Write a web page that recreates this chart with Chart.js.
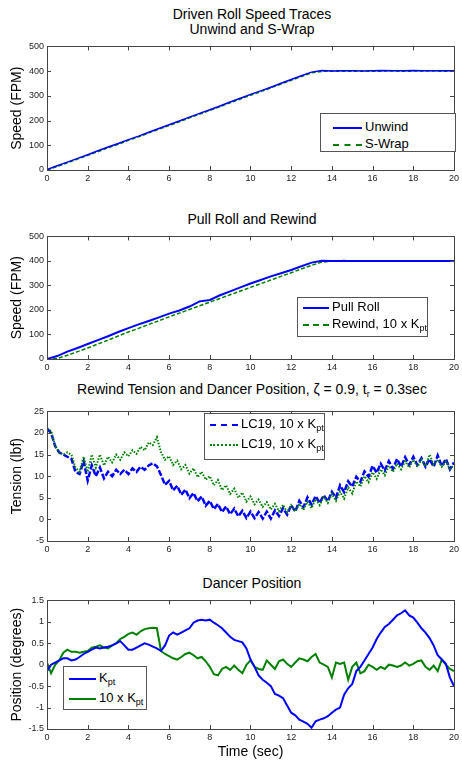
<!DOCTYPE html>
<html>
<head>
<meta charset="utf-8">
<script src="https://cdn.jsdelivr.net/npm/chart.js"></script>
<style>
  body { margin: 0; background: #fff; width: 462px; height: 761px; position: relative; overflow: hidden;
         font-family: "Liberation Sans", Arial, sans-serif; color: #000; }
  canvas { position: absolute; left: 0; }
  .title { position: absolute; left: 47px; width: 410px; text-align: center; font-size: 14px; line-height: 16px; white-space: nowrap; }
  .legend { position: absolute; border: 1px solid #555; background: #fff; font-size: 13px; box-sizing: border-box; }
  .row { position: absolute; height: 16px; line-height: 16px; white-space: nowrap; }
  .ln { display: inline-block; vertical-align: middle; margin-right: 3px; height: 0; }
  sub { font-size: 9px; vertical-align: -3px; line-height: 0; }
</style>
</head>
<body>

<div class="title" style="top:6px">Driven Roll Speed Traces</div>
<div class="title" style="top:21px">Unwind and S-Wrap</div>
<div class="title" style="top:211px">Pull Roll and Rewind</div>
<div class="title" style="top:381px">Rewind Tension and Dancer Position, ζ = 0.9, t<sub>r</sub> = 0.3sec</div>
<div class="title" style="top:575px">Dancer Position</div>

<canvas id="c1" width="462" height="148" style="top:38px"></canvas>
<canvas id="c2" width="462" height="147" style="top:228px"></canvas>
<canvas id="c3" width="462" height="154" style="top:403px"></canvas>
<canvas id="c4" width="462" height="169" style="top:592px"></canvas>

<div class="legend" style="left:320px;top:113px;width:136px;height:39px">
  <div class="row" style="left:12px;top:5px"><span class="ln" style="width:29px;border-top:2px solid #0000ff"></span>Unwind</div>
  <div class="row" style="left:12px;top:22px"><span class="ln" style="width:29px;border-top:2px dashed #008000"></span>S-Wrap</div>
</div>
<div class="legend" style="left:297px;top:297px;width:131px;height:40px">
  <div class="row" style="left:5px;top:1px"><span class="ln" style="width:26px;border-top:2px solid #0000ff"></span>Pull Roll</div>
  <div class="row" style="left:5px;top:18px"><span class="ln" style="width:26px;border-top:2px dashed #008000"></span>Rewind, 10 x K<sub>pt</sub></div>
</div>
<div class="legend" style="left:204px;top:413px;width:121px;height:47px">
  <div class="row" style="left:5px;top:2px"><span class="ln" style="width:28px;border-top:2px dashed #0000ff"></span>LC19, 10 x K<sub>pt</sub></div>
  <div class="row" style="left:5px;top:22px"><span class="ln" style="width:28px;border-top:2px dotted #008000"></span>LC19, 10 x K<sub>pt</sub></div>
</div>
<div class="legend" style="left:63px;top:666px;width:84px;height:44px">
  <div class="row" style="left:5px;top:3px"><span class="ln" style="width:27px;border-top:2px solid #0000ff"></span>K<sub>pt</sub></div>
  <div class="row" style="left:5px;top:23px"><span class="ln" style="width:27px;border-top:2px solid #008000"></span>10 x K<sub>pt</sub></div>
</div>

<script>
// tick labels
const xTicks = [0, 2, 4, 6, 8, 10, 12, 14, 16, 18, 20];
const speedTicks = [0, 100, 200, 300, 400, 500];
const tensionTicks = [-5, 0, 5, 10, 15, 20, 25];
const positionTicks = [-1.5, -1, -0.5, 0, 0.5, 1, 1.5];

// sample times (sec): every 0.5 s for the speed traces, every 0.2 s for tension / position
const tSpeed = Array.from({ length: 41 }, (_, i) => i * 0.5);
const tFine = Array.from({ length: 101 }, (_, i) => Math.round(i * 2) / 10);

// speed (FPM)
const unwind = [2, 17, 32, 47, 62, 78, 93, 107, 123, 137, 153, 168, 183, 198, 214, 229, 244, 259, 275, 290,
  306, 320, 335, 351, 366, 381, 396, 402, 400, 401, 402, 400, 402, 403, 401, 402, 403, 401, 402, 401, 402];
const sWrap = [0, 14, 29, 44, 59, 74, 90, 104, 120, 134, 150, 165, 180, 195, 211, 226, 241, 256, 272, 287,
  302, 317, 332, 348, 363, 378, 393, 399, 399, 400, 399, 400, 399, 400, 401, 399, 400, 400, 401, 399, 400];
const pullRoll = [0, 12, 30, 45, 61, 77, 93, 110, 126, 141, 155, 170, 185, 198, 214, 235, 241, 260, 276, 292,
  308, 322, 337, 350, 363, 378, 393, 401, 400, 400, 400, 400, 400, 400, 400, 400, 400, 400, 400, 400, 400];
const rewind = [0, 2, 15, 30, 45, 61, 77, 94, 110, 125, 141, 156, 172, 187, 202, 217, 232, 247, 262, 277,
  292, 307, 322, 337, 352, 367, 382, 395, 399, 402, 400, 400, 400, 400, 400, 400, 400, 400, 400, 400, 400];

// tension (lbf)
const tensionA = [21, 20, 17, 15.5, 15, 14.5, 14, 11, 10.5, 13.5, 9, 12.5, 10, 12, 9.5, 11, 10, 11.5, 10.5, 11.5,
  10.5, 11.8, 11, 12.2, 11.5, 12.5, 13, 12.3, 10.3, 8, 8.9, 6.7, 7.8, 5.7, 6.9, 4.9, 6.1, 4.2, 5.3, 3.2,
  4.3, 2.4, 3.6, 1.7, 3, 1.2, 2.5, 0.7, 2, 0.3, 1.8, 0.3, 1.7, 0.2, 1.8, 0.2, 2.1, 0.8, 2.6, 1.1,
  3.3, 1.8, 4.3, 2.8, 5.1, 3.4, 5.4, 3.8, 5.6, 4.2, 6.4, 5, 7.9, 6.3, 8.8, 7.6, 9.9, 8.7, 11.1, 9.9,
  12.4, 10.8, 12.9, 11.3, 13.5, 11.7, 14, 12.2, 14.4, 12.6, 14.5, 12.6, 14.2, 12.2, 14, 12.2, 14.8, 12.3, 14, 11.6, 13.2];
const tensionB = [21, 20.5, 17, 15.5, 15, 15.5, 15, 12, 11, 14.5, 11, 15, 12, 15, 12.5, 14.5, 13.2, 15, 13.8, 15.5,
  14.6, 16, 15.2, 16.8, 16, 17.8, 17.2, 19, 15.6, 13.8, 14.6, 12.6, 13.6, 11.6, 12.6, 10.6, 11.8, 9.8, 11, 9.2,
  10, 7.9, 9.1, 6.8, 7.9, 5.9, 7.1, 5, 6.2, 4.1, 5.3, 3.5, 4.6, 2.9, 4, 2.3, 3.6, 1.9, 3.4, 1.7,
  3.3, 1.8, 3.6, 2.2, 4.1, 2.6, 4.7, 3.3, 5.3, 3.8, 5.9, 4.3, 6.4, 4.8, 7.4, 6, 8.8, 7.6, 10, 8.6,
  10.9, 9.4, 11.6, 10.2, 12.4, 11, 12.9, 11.6, 13.5, 12, 13.8, 12.2, 13.8, 12.3, 15, 12.7, 13.8, 12.2, 13.4, 11.7, 12.6];

// dancer position (degrees)
const posKpt = [-0.15, 0, 0.05, 0.1, 0.15, 0.15, 0.1, 0.12, 0.18, 0.25, 0.3, 0.35, 0.4, 0.38, 0.4, 0.42, 0.45, 0.5, 0.55, 0.45,
  0.35, 0.35, 0.4, 0.45, 0.5, 0.47, 0.42, 0.38, 0.32, 0.45, 0.68, 0.75, 0.7, 0.75, 0.8, 0.85, 0.98, 1.03, 1.05, 1.03,
  1.05, 0.98, 0.92, 0.85, 0.75, 0.65, 0.58, 0.55, 0.52, 0.38, 0.12, -0.05, -0.25, -0.35, -0.42, -0.5, -0.68, -0.72, -0.78, -0.95,
  -1.12, -1.18, -1.28, -1.33, -1.38, -1.47, -1.32, -1.28, -1.25, -1.2, -1.12, -1.05, -1, -0.7, -0.55, -0.45, -0.15, -0.05, 0.1, 0.25,
  0.4, 0.6, 0.75, 0.88, 0.95, 1.05, 1.15, 1.2, 1.27, 1.15, 1.1, 0.98, 0.85, 0.75, 0.62, 0.45, 0.22, 0.12, 0.02, -0.3, -0.5];
const pos10Kpt = [0.05, -0.2, 0, 0.1, 0.28, 0.35, 0.3, 0.3, 0.28, 0.3, 0.32, 0.4, 0.42, 0.45, 0.4, 0.38, 0.45, 0.5, 0.6, 0.65,
  0.72, 0.75, 0.7, 0.78, 0.83, 0.85, 0.86, 0.85, 0.32, 0.25, 0.2, 0.15, 0.12, 0.18, 0.25, 0.28, 0.22, 0.15, 0.18, 0.08,
  -0.05, -0.22, -0.25, -0.1, -0.05, -0.12, -0.02, -0.12, -0.2, 0, 0.1, -0.05, -0.1, -0.12, 0.1, 0, -0.1, 0.08, 0.12, 0.02,
  -0.05, 0.05, 0.15, 0.12, 0.08, 0.18, 0.25, 0.05, 0, -0.05, -0.3, 0.05, 0.02, 0.05, -0.35, -0.05, 0.05, -0.2, -0.15, 0,
  -0.05, -0.12, -0.05, -0.1, 0, -0.02, -0.05, -0.02, 0.05, -0.02, 0.02, 0.08, 0.1, -0.05, -0.12, -0.02, -0.15, 0.12, 0, -0.1, -0.15];

const BLUE = '#0000ff';
const GREEN = '#008000';

// box round the plot with short inward tick marks on all four sides
const framePlugin = {
  id: 'frame',
  afterDatasetsDraw(chart) {
    const { ctx, chartArea: a, scales: { x, y } } = chart;
    ctx.save();
    ctx.strokeStyle = '#444';
    ctx.lineWidth = 1;
    ctx.beginPath();
    x.ticks.forEach(t => {
      const px = Math.round(x.getPixelForValue(t.value)) + 0.5;
      ctx.moveTo(px, a.bottom); ctx.lineTo(px, a.bottom - 4);
      ctx.moveTo(px, a.top); ctx.lineTo(px, a.top + 4);
    });
    y.ticks.forEach(t => {
      const py = Math.round(y.getPixelForValue(t.value)) + 0.5;
      ctx.moveTo(a.left, py); ctx.lineTo(a.left + 4, py);
      ctx.moveTo(a.right, py); ctx.lineTo(a.right - 4, py);
    });
    ctx.stroke();
    ctx.strokeRect(Math.round(a.left) + 0.5, Math.round(a.top) + 0.5,
      Math.round(a.right - a.left), Math.round(a.bottom - a.top));
    ctx.restore();
  }
};

function series(times, values, color, width, dash) {
  return {
    data: times.map((t, i) => ({ x: t, y: values[i] })),
    borderColor: color,
    borderWidth: width,
    borderDash: dash || [],
    pointRadius: 0,
    tension: 0,
    fill: false
  };
}

function makeChart(id, datasets, yTicks, yTitle, xTitle, xHeight) {
  const tickFont = { family: '"Liberation Sans", Arial, sans-serif', size: 9 };
  return new Chart(document.getElementById(id), {
    type: 'line',
    data: { datasets },
    options: {
      responsive: false,
      animation: false,
      events: [],
      layout: { padding: { top: 5, right: 5, left: 0, bottom: 0 } },
      plugins: { legend: { display: false }, tooltip: { enabled: false } },
      scales: {
        x: {
          type: 'linear',
          min: xTicks[0],
          max: xTicks[xTicks.length - 1],
          afterBuildTicks: s => { s.ticks = xTicks.map(v => ({ value: v })); },
          afterFit: s => { s.height = xHeight; },
          grid: { display: false, drawTicks: false },
          border: { display: false },
          ticks: { font: tickFont, color: '#222', padding: 3, maxRotation: 0, autoSkip: false, callback: v => String(v) },
          title: {
            display: !!xTitle,
            text: xTitle || '',
            color: '#000',
            font: { family: '"Liberation Sans", Arial, sans-serif', size: 14 },
            padding: { top: 0, bottom: 0 }
          }
        },
        y: {
          min: yTicks[0],
          max: yTicks[yTicks.length - 1],
          afterBuildTicks: s => { s.ticks = yTicks.map(v => ({ value: v })); },
          afterFit: s => { s.width = 47; },
          grid: { display: false, drawTicks: false },
          border: { display: false },
          ticks: { font: tickFont, color: '#222', padding: 3, autoSkip: false, callback: v => String(v) },
          title: {
            display: true,
            text: yTitle,
            color: '#000',
            font: { family: '"Liberation Sans", Arial, sans-serif', size: 14 },
            padding: { top: 9, bottom: 0 }
          }
        }
      }
    },
    plugins: [framePlugin]
  });
}

makeChart('c1', [
  series(tSpeed, unwind, BLUE, 1.5),
  series(tSpeed, sWrap, GREEN, 1.5, [4, 2])
], speedTicks, 'Speed (FPM)', null, 16);

makeChart('c2', [
  series(tSpeed, pullRoll, BLUE, 2),
  series(tSpeed, rewind, GREEN, 1.5, [4, 2])
], speedTicks, 'Speed (FPM)', null, 16);

makeChart('c3', [
  series(tFine, tensionB, GREEN, 2, [1.5, 1.5]),
  series(tFine, tensionA, BLUE, 2.5, [6, 2])
], tensionTicks, 'Tension (lbf)', null, 16);

makeChart('c4', [
  series(tFine, posKpt, BLUE, 2),
  series(tFine, pos10Kpt, GREEN, 2)
], positionTicks, 'Position (degrees)', 'Time (sec)', 32);
</script>
</body>
</html>
